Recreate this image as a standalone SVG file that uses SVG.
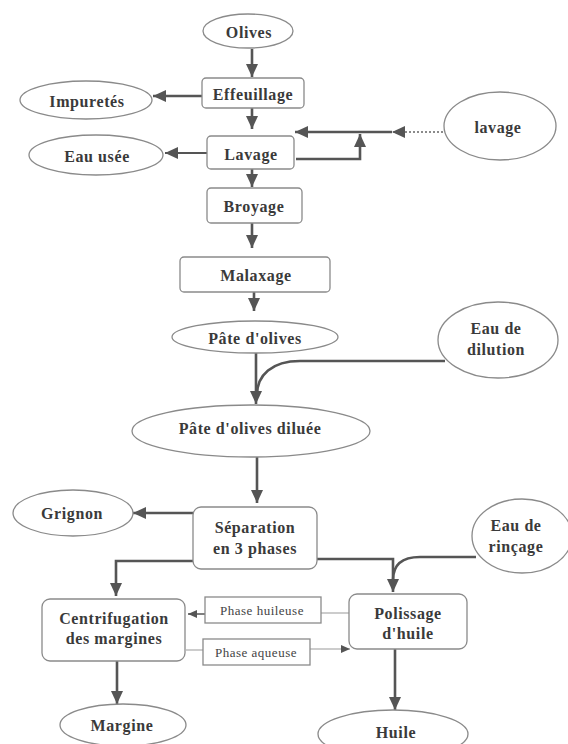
<svg xmlns="http://www.w3.org/2000/svg" width="568" height="744" viewBox="0 0 568 744">
<defs>
<style>
.n{fill:#fff;stroke:#8a8a8a;stroke-width:1.3}
.t{font-family:'Liberation Serif','DejaVu Serif',serif;font-weight:700;font-size:16px;letter-spacing:0.6px;fill:#3a3a3a;text-anchor:middle;dominant-baseline:central}
.s{font-family:'Liberation Serif','DejaVu Serif',serif;font-size:13px;letter-spacing:0.5px;fill:#444;text-anchor:middle;dominant-baseline:central}
.c{fill:none;stroke:#555;stroke-width:2.6}
.th{fill:none;stroke:#999;stroke-width:1}
.d{fill:none;stroke:#666;stroke-width:1.5;stroke-dasharray:2 2}
</style>
<marker id="a" markerUnits="userSpaceOnUse" markerWidth="14" markerHeight="14" viewBox="0 0 14 14" refX="13" refY="7" orient="auto"><path d="M0,1 L13,7 L0,13 Z" fill="#555"/></marker>
<marker id="sa" markerUnits="userSpaceOnUse" markerWidth="10" markerHeight="10" viewBox="0 0 10 10" refX="9" refY="5" orient="auto"><path d="M0,1 L9,5 L0,9 Z" fill="#555"/></marker>
</defs>
<rect width="568" height="744" fill="#fff"/>
<g id="connectors">
<path class="c" d="M252 49 V77" marker-end="url(#a)"/>
<path class="c" d="M202 96 H153" marker-end="url(#a)"/>
<path class="c" d="M252 108 V129" marker-end="url(#a)"/>
<path class="c" d="M207 153 H165" marker-end="url(#a)" style="stroke-width:2"/>
<path class="d" d="M443 132 H392" marker-end="url(#a)"/>
<path class="c" d="M392 132 H295" marker-end="url(#a)"/>
<path class="c" d="M296 159 H360 V134" marker-end="url(#a)"/>
<path class="c" d="M252 169 V187" marker-end="url(#a)"/>
<path class="c" d="M252 223 V248" marker-end="url(#a)"/>
<path class="c" d="M254 292 V311" marker-end="url(#a)"/>
<path class="c" d="M256 353 V404" marker-end="url(#a)"/>
<path class="c" d="M445 361 H300 C272 361 257 375 257 395"/>
<path class="c" d="M257 457 V503" marker-end="url(#a)"/>
<path class="c" d="M193 513 H133" marker-end="url(#a)"/>
<path class="c" d="M193 561 H116 V596" marker-end="url(#a)"/>
<path class="c" d="M317 559 H393 V592" marker-end="url(#a)"/>
<path class="c" d="M476 557 H420 C402 557 393 565 393 580"/>
<path class="th" d="M349 613 H321"/>
<path class="c" d="M205 614 H188" marker-end="url(#sa)" style="stroke-width:1.5"/>
<path class="th" d="M186 650 H203"/>
<path class="th" d="M310 649 H350" marker-end="url(#sa)"/>
<path class="c" d="M117 661 V704" marker-end="url(#a)"/>
<path class="c" d="M395 649 V710" marker-end="url(#a)"/>
</g>
<g id="olives"><ellipse class="n" cx="248" cy="31" rx="45" ry="17"/><text class="t" x="249" y="32">Olives</text></g>
<g id="effeuillage"><rect class="n" x="202" y="78" width="102" height="30" rx="4"/><text class="t" x="253" y="94">Effeuillage</text></g>
<g id="impuretes"><ellipse class="n" cx="86" cy="100" rx="66" ry="19"/><text class="t" x="87" y="101">Impuretés</text></g>
<g id="lavage-step"><rect class="n" x="207" y="136" width="87" height="33" rx="4"/><text class="t" x="251" y="154">Lavage</text></g>
<g id="eau-usee"><ellipse class="n" cx="96" cy="155" rx="67" ry="20"/><text class="t" x="97" y="156">Eau usée</text></g>
<g id="lavage-in"><ellipse class="n" cx="500" cy="126" rx="56" ry="34"/><text class="t" x="498" y="127">lavage</text></g>
<g id="broyage"><rect class="n" x="207" y="188" width="95" height="35" rx="4"/><text class="t" x="254" y="206">Broyage</text></g>
<g id="malaxage"><rect class="n" x="180" y="257" width="150" height="35" rx="4"/><text class="t" x="256" y="275">Malaxage</text></g>
<g id="pate"><ellipse class="n" cx="255" cy="337" rx="83" ry="16"/><text class="t" x="255" y="338">Pâte d'olives</text></g>
<g id="eau-dilution"><ellipse class="n" cx="498" cy="340" rx="60" ry="38"/><text class="t" x="496" y="328">Eau de</text><text class="t" x="496" y="349">dilution</text></g>
<g id="pate-diluee"><ellipse class="n" cx="251" cy="431" rx="119" ry="26"/><text class="t" x="250" y="428">Pâte d'olives diluée</text></g>
<g id="separation"><rect class="n" x="193" y="507" width="124" height="62" rx="8"/><text class="t" x="255" y="527">Séparation</text><text class="t" x="255" y="548">en 3 phases</text></g>
<g id="grignon"><ellipse class="n" cx="73" cy="513" rx="60" ry="23"/><text class="t" x="72" y="513">Grignon</text></g>
<g id="eau-rincage"><ellipse class="n" cx="522" cy="536" rx="50" ry="37"/><text class="t" x="516" y="525">Eau de</text><text class="t" x="516" y="546">rinçage</text></g>
<g id="centrifugation"><rect class="n" x="42" y="599" width="143" height="62" rx="8"/><text class="t" x="114" y="618">Centrifugation</text><text class="t" x="114" y="638">des margines</text></g>
<g id="phase-huileuse"><rect class="n" x="205" y="597" width="116" height="26"/><text class="s" x="262" y="610">Phase huileuse</text></g>
<g id="phase-aqueuse"><rect class="n" x="203" y="639" width="107" height="26"/><text class="s" x="256" y="652">Phase aqueuse</text></g>
<g id="polissage"><rect class="n" x="349" y="594" width="118" height="55" rx="8"/><text class="t" x="408" y="613">Polissage</text><text class="t" x="408" y="633">d'huile</text></g>
<g id="margine"><ellipse class="n" cx="123" cy="725" rx="63" ry="21"/><text class="t" x="122" y="725">Margine</text></g>
<g id="huile"><ellipse class="n" cx="393" cy="734" rx="75" ry="24"/><text class="t" x="396" y="732">Huile</text></g>
</svg>
